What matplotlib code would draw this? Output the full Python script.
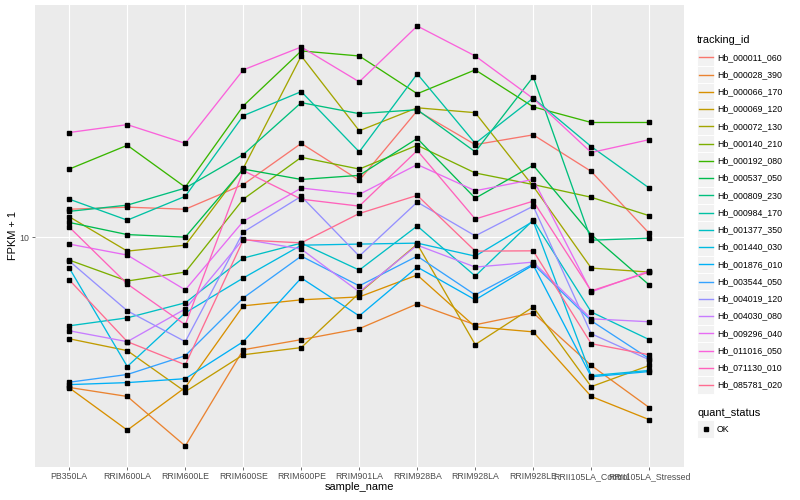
import numpy as np
import matplotlib
matplotlib.use("Agg")
from matplotlib import pyplot as plt
from matplotlib.patches import Rectangle
from matplotlib.lines import Line2D
from matplotlib.ticker import FixedLocator, NullLocator

plt.rcParams['font.family'] = ['Liberation Sans', 'DejaVu Sans']

SAMPLES = ["PB350LA", "RRIM600LA", "RRIM600LE", "RRIM600SE", "RRIM600PE", "RRIM901LA",
           "RRIM928BA", "RRIM928LA", "RRIM928LE", "RRII105LA_Control", "RRII105LA_Stressed"]

TRACKING_IDS = ["Hb_000011_060", "Hb_000028_390", "Hb_000066_170", "Hb_000069_120",
                "Hb_000072_130", "Hb_000140_210", "Hb_000192_080", "Hb_000537_050",
                "Hb_000809_230", "Hb_000984_170", "Hb_001377_350", "Hb_001440_030",
                "Hb_001876_010", "Hb_003544_050", "Hb_004019_120", "Hb_004030_080",
                "Hb_009296_040", "Hb_011016_050", "Hb_071130_010", "Hb_085781_020"]

# FPKM + 1, one row per tracking id, one column per sample
hb_000011_060 = [12.4, 12.6, 12.4, 15.0, 20.6, 15.5, 26.5, 20.4, 22.0, 16.6, 10.3]
hb_000028_390 = [3.14, 2.93, 2.00, 4.20, 4.54, 4.94, 5.98, 5.09, 5.58, 3.72, 2.69]
hb_000066_170 = [3.13, 2.26, 3.14, 5.89, 6.17, 6.31, 7.47, 5.01, 4.82, 2.93, 2.45]
hb_000069_120 = [4.57, 4.17, 3.04, 4.04, 4.27, 6.50, 9.48, 4.37, 5.84, 3.16, 3.72]
hb_000072_130 = [11.7, 8.98, 9.40, 17.0, 40.4, 22.7, 27.1, 26.1, 14.8, 7.88, 7.64]
hb_000140_210 = [8.38, 7.13, 7.64, 13.4, 18.5, 16.9, 20.3, 16.4, 15.0, 13.6, 11.8]
hb_000192_080 = [16.9, 20.3, 14.7, 27.5, 42.0, 40.4, 30.2, 36.3, 27.3, 24.2, 24.2]
hb_000537_050 = [11.2, 10.2, 10.0, 16.9, 15.6, 16.1, 21.4, 13.5, 17.4, 10.2, 6.92]
hb_000809_230 = [12.2, 12.8, 14.6, 18.9, 28.2, 25.9, 26.7, 19.3, 34.4, 9.77, 9.92]
hb_000984_170 = [13.4, 11.4, 13.7, 25.5, 30.7, 19.3, 35.2, 20.6, 29.2, 20.1, 14.6]
hb_001377_350 = [5.05, 5.37, 6.03, 8.51, 9.55, 7.76, 10.9, 7.41, 11.4, 5.62, 4.54]
hb_001440_030 = [7.88, 3.69, 5.58, 7.30, 9.40, 9.48, 9.55, 8.64, 11.3, 3.44, 3.58]
hb_001876_010 = [3.21, 3.26, 3.36, 4.47, 7.30, 5.45, 7.94, 6.17, 8.07, 3.41, 3.55]
hb_003544_050 = [3.27, 3.47, 4.01, 6.26, 8.64, 6.87, 8.64, 6.41, 8.13, 5.25, 3.92]
hb_004019_120 = [8.32, 5.67, 4.47, 10.4, 13.7, 8.64, 13.1, 10.1, 12.7, 4.75, 3.89]
hb_004030_080 = [4.86, 4.47, 5.75, 9.85, 9.12, 6.56, 9.40, 7.94, 8.25, 5.33, 5.21]
hb_009296_040 = [9.48, 8.71, 6.66, 11.3, 14.6, 13.9, 17.5, 14.3, 15.6, 6.56, 7.70]
hb_011016_050 = [22.4, 23.8, 20.6, 36.3, 43.3, 33.1, 50.9, 40.4, 29.1, 19.2, 21.2]
hb_071130_010 = [10.8, 6.97, 5.09, 16.7, 13.4, 12.7, 19.5, 11.5, 13.2, 6.61, 7.64]
hb_085781_020 = [7.19, 4.47, 3.74, 9.79, 9.57, 12.0, 13.8, 8.98, 9.00, 4.40, 4.04]

SERIES = [hb_000011_060, hb_000028_390, hb_000066_170, hb_000069_120, hb_000072_130,
          hb_000140_210, hb_000192_080, hb_000537_050, hb_000809_230, hb_000984_170,
          hb_001377_350, hb_001440_030, hb_001876_010, hb_003544_050, hb_004019_120,
          hb_004030_080, hb_009296_040, hb_011016_050, hb_071130_010, hb_085781_020]

COLORS = ["#F8766D", "#EA8331", "#D89000", "#C09B00", "#A3A500", "#7CAE00", "#39B600",
          "#00BB4E", "#00BF7D", "#00C1A3", "#00BFC4", "#00BAE0", "#00B0F6", "#35A2FF",
          "#9590FF", "#C77CFF", "#E76BF3", "#FA62DB", "#FF62BC", "#FF6C91"]

W, H = 800, 500
SMALL = 8.8 * 72 / 100
BIG = 11 * 72 / 100
MARK = 2.2


def fx(x):
    return x / W


def fy(y):
    return 1 - y / H


def draw_legend(fig):
    fig.text(fx(697), fy(40), "tracking_id", fontsize=BIG, va="center", ha="left")
    for i, (name, color) in enumerate(zip(TRACKING_IDS, COLORS)):
        cy = 57.3 + i * 17.25
        fig.add_artist(Rectangle((fx(697), fy(cy + 8.6)), 17.3 / W, 17.3 / H,
                                 transform=fig.transFigure, facecolor="#F2F2F2",
                                 edgecolor="white", linewidth=0.7))
        fig.add_artist(Line2D([fx(698.5), fx(712.5)], [fy(cy), fy(cy)],
                              transform=fig.transFigure, color=color, linewidth=1.0))
        fig.text(fx(717), fy(cy), name, fontsize=SMALL, va="center", ha="left")
    fig.text(fx(697), fy(412.5), "quant_status", fontsize=BIG, va="center", ha="left")
    fig.add_artist(Rectangle((fx(697), fy(429 + 8.6)), 17.3 / W, 17.3 / H,
                             transform=fig.transFigure, facecolor="#F2F2F2",
                             edgecolor="white", linewidth=0.7))
    fig.add_artist(Line2D([fx(705.6)], [fy(429)], transform=fig.transFigure,
                          marker="s", markersize=MARK, color="black", linestyle="none"))
    fig.text(fx(717), fy(429), "OK", fontsize=SMALL, va="center", ha="left")


def main():
    fig = plt.figure(figsize=(W / 100, H / 100), dpi=100)
    ax = fig.add_axes([fx(34.5), fy(467), (684 - 34.5) / W, 462 / H])
    ax.set_facecolor("#EBEBEB")
    xs = np.arange(len(SAMPLES))

    for vals, color in zip(SERIES, COLORS):
        ax.plot(xs, vals, color=color, linewidth=0.95, zorder=3)
    for vals in SERIES:
        ax.plot(xs, vals, linestyle="none", marker="s", markersize=MARK,
                color="black", zorder=4)

    ax.set_yscale("log")
    allv = np.log10(np.concatenate([np.array(s) for s in SERIES]))
    lo, hi = allv.min(), allv.max()
    pad = 0.05 * (hi - lo)
    ax.set_ylim(10 ** (lo - pad), 10 ** (hi + pad))
    ax.set_xlim(-0.6, len(SAMPLES) - 0.4)

    ax.yaxis.set_major_locator(FixedLocator([10]))
    ax.yaxis.set_minor_locator(NullLocator())
    ax.set_yticklabels(["10"])
    ax.set_xticks(xs)
    ax.set_xticklabels(SAMPLES)
    ax.tick_params(axis="both", length=2.0, width=0.5, color="#333333",
                   labelsize=SMALL, labelcolor="#4D4D4D", pad=1.6)

    ax.grid(True, which="major", color="white", linewidth=0.8, zorder=1)
    ax.set_axisbelow(True)
    for sp in ax.spines.values():
        sp.set_visible(False)

    fig.text(fx(359), fy(487), "sample_name", fontsize=BIG, ha="center", va="center")
    fig.text(fx(13), fy(236), "FPKM + 1", fontsize=BIG, ha="center", va="center",
             rotation=90)

    draw_legend(fig)
    fig.savefig("out.png", dpi=100, facecolor="white")


if __name__ == '__main__':
    main()
